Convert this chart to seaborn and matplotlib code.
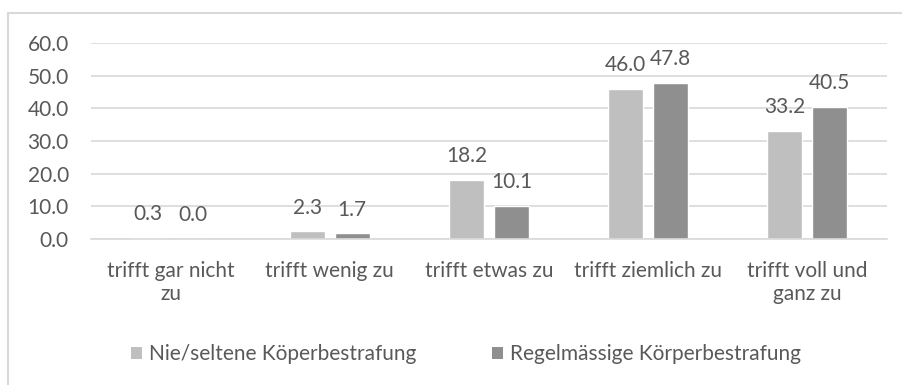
import matplotlib
matplotlib.use("Agg")
import matplotlib.pyplot as plt
import matplotlib.patches as mpatches
import seaborn as sns
import pandas as pd

# Zustimmung nach Häufigkeit der Körperbestrafung (in Prozent)
categories = ["trifft gar nicht\nzu", "trifft wenig zu", "trifft etwas zu",
              "trifft ziemlich zu", "trifft voll und\nganz zu"]
series_names = ["Nie/seltene Köperbestrafung", "Regelmässige Körperbestrafung"]
values_selten = [0.3, 2.3, 18.2, 46.0, 33.2]
values_regel = [0.0, 1.7, 10.1, 47.8, 40.5]
y_ticks = [0, 10, 20, 30, 40, 50, 60]

colors = ["#BFBFBF", "#8F8F8F"]
text_color = "#595959"
grid_color = "#D9D9D9"
fs = 15

df = pd.DataFrame({
    "Kategorie": categories * 2,
    "Gruppe": [series_names[0]] * 5 + [series_names[1]] * 5,
    "Wert": values_selten + values_regel,
})

sns.set_theme(style="white")
plt.rcParams["font.family"] = ["Lato", "DejaVu Sans"]

fig = plt.figure(figsize=(9.03, 3.85), dpi=100)
ax = fig.add_axes([0.1008, 0.3792, 0.8815, 0.5091])

sns.barplot(data=df, x="Kategorie", y="Wert", hue="Gruppe",
            order=categories, hue_order=series_names,
            palette=colors, width=0.565, gap=0.222,
            saturation=1, legend=False, ax=ax)

for container in ax.containers:
    ax.bar_label(container, fmt="%.1f", padding=10,
                 fontsize=fs, color=text_color)

ax.set_ylim(0, 60)
ax.set_xlim(-0.5, 4.5)
ax.set_yticks(y_ticks)
ax.set_yticklabels([f"{v:.1f}" for v in y_ticks])
ax.yaxis.grid(True, color=grid_color, linewidth=1.2)
ax.set_axisbelow(True)
for side in ["top", "right", "left"]:
    ax.spines[side].set_visible(False)
ax.spines["bottom"].set_color(grid_color)
ax.spines["bottom"].set_linewidth(1.2)
ax.set_xlabel("")
ax.set_ylabel("")
ax.tick_params(axis="both", length=0, colors=text_color, labelsize=fs)
ax.tick_params(axis="y", pad=16)
ax.tick_params(axis="x", pad=16)
for lbl in ax.get_xticklabels():
    lbl.set_linespacing(1.2)

handles = [mpatches.Patch(facecolor=c, edgecolor="none") for c in colors]
fig.legend(handles, series_names, loc="center", bbox_to_anchor=(0.516, 0.08),
           ncol=2, frameon=False, fontsize=fs, handlelength=0.55,
           handleheight=0.55, handletextpad=0.35, columnspacing=3.6,
           labelcolor=text_color)

# Rahmen um den Diagrammbereich
frame = mpatches.Rectangle((8 / 903, -0.05), 1.0, 1 - 13 / 385 + 0.05,
                           transform=fig.transFigure, fill=False,
                           edgecolor=grid_color, linewidth=1.5)
fig.patches.append(frame)

fig.savefig("out.png", dpi=100)
